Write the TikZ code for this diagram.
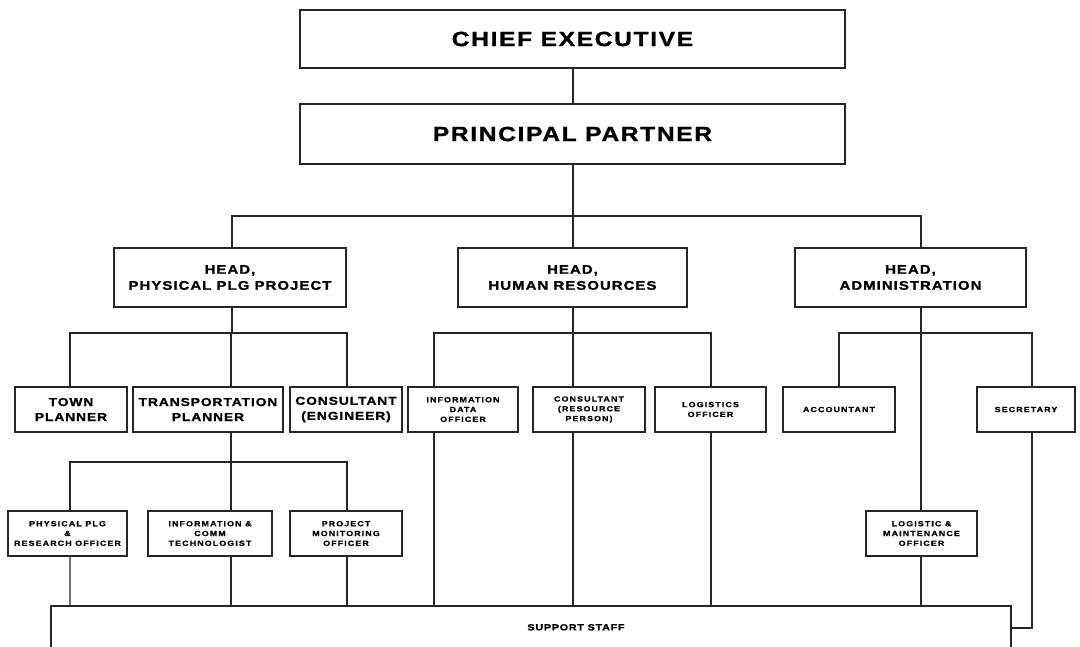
\documentclass[tikz,border=0pt]{standalone}
\usepackage{fontspec}
\newfontfamily\hf[FakeStretch=1.2,LetterSpace=8,BoldFeatures={FakeBold=1.2}]{Liberation Sans}
\newfontfamily\hfs[FakeStretch=1.2,LetterSpace=15,BoldFeatures={FakeBold=1}]{Liberation Sans}
\newcommand\ftA{\hf\bfseries\fontsize{20.5}{22}\selectfont}
\newcommand\ftB{\hf\bfseries\fontsize{12.5}{16}\selectfont}
\newcommand\ftC{\hf\bfseries\fontsize{11.5}{15}\selectfont}
\newcommand\ftD{\hfs\bfseries\fontsize{7.4}{9.8}\selectfont}
\newcommand\ftE{\hf\bfseries\fontsize{9}{11}\selectfont}
\begin{document}
\begin{tikzpicture}[x=1pt,y=-1pt,
  box/.style={draw=black!85, line width=1.4pt, fill=white, align=center, inner sep=0pt, text=black},
  ln/.style={draw=black!85, line width=1.3pt},
  big/.style={box, minimum width=545pt, font=\ftA},
  head/.style={box, minimum height=59pt, font=\ftB},
  mid/.style={box, minimum height=45pt, font=\ftC},
  small/.style={box, minimum height=45pt, font=\ftD}]
\clip (0,0) rectangle (1080,646);
\fill[white] (0,0) rectangle (1080,646);
% top
\node[big, minimum height=58pt] (ce) at (572.5,39) {CHIEF EXECUTIVE};
\node[big, minimum height=60pt] (pp) at (572.5,134) {PRINCIPAL PARTNER};
% heads
\node[head, minimum width=232pt] (hpp) at (230,277.5) {HEAD,\\PHYSICAL PLG PROJECT};
\node[head, minimum width=229pt] (hhr) at (572.5,277.5) {HEAD,\\HUMAN RESOURCES};
\node[head, minimum width=231pt] (had) at (910.5,277.5) {HEAD,\\ADMINISTRATION};
% level 3
\node[mid, minimum width=112pt] (town) at (71,409.5) {TOWN\\PLANNER};
\node[mid, minimum width=150pt] (trans) at (208,409.5) {TRANSPORTATION\\PLANNER};
\node[mid, minimum width=112pt] (cons) at (346,409.5) {CONSULTANT\\(ENGINEER)};
\node[small, minimum width=110pt] (ido) at (463,409.5) {INFORMATION\\DATA\\OFFICER};
\node[small, minimum width=112pt] (crp) at (589,409.5) {CONSULTANT\\(RESOURCE\\PERSON)};
\node[small, minimum width=111pt] (lo) at (710.5,409.5) {LOGISTICS\\OFFICER};
\node[small, minimum width=112pt] (acc) at (839,409.5) {ACCOUNTANT};
\node[small, minimum width=98pt] (sec) at (1026,409.5) {SECRETARY};
% level 4
\node[small, minimum width=119pt] (pplg) at (67.5,533.5) {PHYSICAL PLG\\\&\\RESEARCH OFFICER};
\node[small, minimum width=124pt] (ict) at (210,533.5) {INFORMATION \&\\COMM\\TECHNOLOGIST};
\node[small, minimum width=112pt] (pmo) at (346,533.5) {PROJECT\\MONITORING\\OFFICER};
\node[small, minimum width=111pt] (lmo) at (921.5,533.5) {LOGISTIC \&\\MAINTENANCE\\OFFICER};
% support staff
\node[box, minimum width=960pt, minimum height=80pt,
  label={[font=\ftE, anchor=center, xshift=45pt, yshift=-22pt]north:SUPPORT STAFF}] (ss) at (531,646) {};
% bus coordinates
\coordinate (t1) at (232,216);
\coordinate (t2) at (573,216);
\coordinate (t3) at (921,216);
\coordinate (p1) at (70,333);
\coordinate (p2) at (232,333);
\coordinate (p3) at (347,333);
\coordinate (q1) at (70,462);
\coordinate (q2) at (231,462);
\coordinate (q3) at (347,462);
\coordinate (h1) at (434,333);
\coordinate (h2) at (573,333);
\coordinate (h3) at (711,333);
\coordinate (a1) at (839,333);
\coordinate (a2) at (921,333);
\coordinate (a3) at (1032,333);
\coordinate (sj) at (1032,628);
% connectors
\draw[ln] (ce.south -| t2) -- (pp.north -| t2);
\draw[ln] (pp.south -| t2) -- (t2);
\draw[ln] (t1 |- hpp.north) -- (t1) -- (t3) -- (t3 |- had.north);
\draw[ln] (t2) -- (t2 |- hhr.north);
\draw[ln] (p2 |- hpp.south) -- (p2);
\draw[ln] (p1 |- town.north) -- (p1) -- (p3) -- (p3 |- cons.north);
\draw[ln] (q2 |- trans.north) -- (q2 |- p2);
\draw[ln] (q2 |- trans.south) -- (q2);
\draw[ln] (q1 |- pplg.north) -- (q1) -- (q3) -- (q3 |- pmo.north);
\draw[ln] (q2) -- (q2 |- ict.north);
\draw[ln] (h2 |- hhr.south) -- (h2);
\draw[ln] (h1 |- ido.north) -- (h1) -- (h3) -- (h3 |- lo.north);
\draw[ln] (h2) -- (h2 |- crp.north);
\draw[ln] (a2 |- had.south) -- (a2) -- (a2 |- lmo.north);
\draw[ln] (a1 |- acc.north) -- (a1) -- (a3) -- (a3 |- sec.north);
% to support staff
\draw[ln, draw=black!55] (q1 |- pplg.south) -- (q1 |- ss.north);
\draw[ln] (q2 |- ict.south) -- (q2 |- ss.north);
\draw[ln] (q3 |- pmo.south) -- (q3 |- ss.north);
\draw[ln] (h1 |- ido.south) -- (h1 |- ss.north);
\draw[ln] (h2 |- crp.south) -- (h2 |- ss.north);
\draw[ln] (h3 |- lo.south) -- (h3 |- ss.north);
\draw[ln] (a2 |- lmo.south) -- (a2 |- ss.north);
\draw[ln] (a3 |- sec.south) -- (sj) -- (sj -| ss.east);
\end{tikzpicture}
\end{document}
